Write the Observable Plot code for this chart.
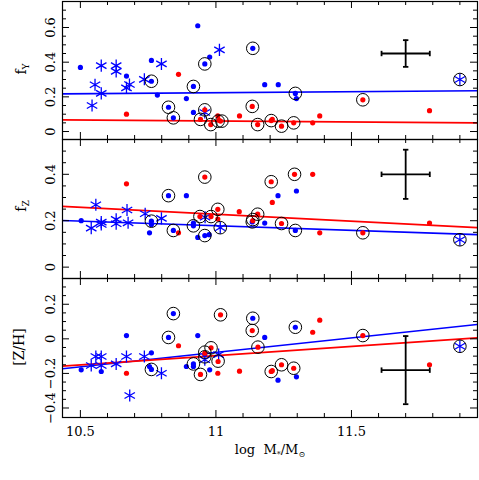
<!DOCTYPE html>
<html><head><meta charset="utf-8">
<script src="https://cdn.jsdelivr.net/npm/d3@7"></script>
<script src="https://cdn.jsdelivr.net/npm/@observablehq/plot@0.6"></script>
<style>
body{margin:0;background:#fff;}
#chart{position:relative;width:479px;height:480px;overflow:hidden;background:#fff;}
#chart svg{position:absolute;left:0;background:transparent;overflow:visible;}
</style></head><body><div id="chart"></div>
<script>
// ---------- data ----------
const xDomain = [10.434, 11.965];
const xMajorTicks = [10.5, 11, 11.5];
const xMinorTicks = [10.5, 10.6, 10.7, 10.8, 10.9, 11, 11.1, 11.2, 11.3, 11.4, 11.5, 11.6, 11.7, 11.8, 11.9];
const xTickLabels = ["10.5", "11", "11.5"];
const fitMass = [10.434, 11.965];

// f_Y panel
const fyBlueDots = [[10.50,0.37],[10.67,0.32],[10.762,0.41],[10.762,0.29],[10.784,0.21],[10.825,0.14],[10.843,0.079],[10.933,0.61],[10.891,0.19],[10.917,0.26],[10.917,0.11],[10.959,0.39],[10.977,0.43],[11.136,0.48],[11.18,0.27],[11.23,0.27],[11.293,0.22],[11.297,0.19]];
const fyRedDots = [[10.67,0.10],[10.862,0.33],[10.943,0.07],[10.959,0.125],[10.981,0.04],[11.007,0.09],[11.017,0.06],[11.011,0.065],[11.087,0.09],[11.134,0.145],[11.154,0.04],[11.204,0.063],[11.208,0.07],[11.242,0.031],[11.287,0.05],[11.357,0.05],[11.383,0.09],[11.542,0.183],[11.788,0.12]];
const fyStars = [[10.543,0.15],[10.554,0.27],[10.577,0.38],[10.577,0.22],[10.632,0.38],[10.632,0.347],[10.67,0.252],[10.681,0.271],[10.736,0.301],[10.799,0.39],[11.013,0.471],[10.959,0.11],[11.9,0.30]];
const fyRings = [[10.762,0.29],[10.825,0.14],[10.843,0.079],[10.917,0.26],[10.959,0.39],[11.136,0.48],[11.293,0.22],[10.943,0.07],[10.959,0.125],[10.981,0.04],[11.008,0.06],[11.022,0.06],[11.134,0.145],[11.154,0.04],[11.204,0.063],[11.242,0.031],[11.287,0.05],[11.542,0.183],[11.9,0.30]];
const fyBlueFit = [0.217, 0.235];
const fyRedFit = [0.067, 0.050];
const fyErr = {x: 11.7, dx: 0.089, y: 0.45, dy: 0.077};
const fyTickLabels = [0, 0.2, 0.4, 0.6];
const fyMinorTicks = [0,0.05,0.1,0.15,0.2,0.25,0.3,0.35,0.4,0.45,0.5,0.55,0.6,0.65,0.7];

// f_Z panel
const fzBlueDots = [[10.503,0.20],[10.762,0.198],[10.762,0.184],[10.755,0.148],[10.825,0.308],[10.843,0.158],[10.891,0.308],[10.917,0.178],[10.917,0.19],[10.933,0.128],[10.959,0.136],[10.975,0.14],[11.134,0.195],[11.18,0.19],[11.229,0.308],[11.297,0.328],[11.293,0.158]];
const fzRedDots = [[10.67,0.359],[10.862,0.148],[10.941,0.218],[10.959,0.388],[10.982,0.218],[11.007,0.249],[11.007,0.207],[11.086,0.239],[11.136,0.2],[11.154,0.228],[11.204,0.368],[11.208,0.279],[11.242,0.188],[11.29,0.40],[11.357,0.40],[11.383,0.148],[11.542,0.148],[11.788,0.19]];
const fzStars = [[10.54,0.168],[10.557,0.269],[10.577,0.184],[10.577,0.194],[10.632,0.206],[10.632,0.187],[10.672,0.246],[10.676,0.191],[10.739,0.23],[10.799,0.21],[10.96,0.215],[11.016,0.17],[11.9,0.118]];
const fzRings = [[10.762,0.198],[10.825,0.308],[10.843,0.158],[10.917,0.178],[10.941,0.218],[10.959,0.388],[10.959,0.136],[10.982,0.218],[11.007,0.249],[11.016,0.17],[11.134,0.195],[11.136,0.205],[11.154,0.228],[11.204,0.368],[11.242,0.188],[11.29,0.40],[11.293,0.158],[11.542,0.148],[11.9,0.118]];
const fzBlueFit = [0.201, 0.140];
const fzRedFit = [0.262, 0.170];
const fzErr = {x: 11.7, dx: 0.089, y: 0.40, dy: 0.106};
const fzTickLabels = [0, 0.2, 0.4];
const fzMinorTicks = [0,0.05,0.1,0.15,0.2,0.25,0.3,0.35,0.4,0.45,0.5];

// [Z/H] panel
const zhBlueDots = [[10.503,-0.179],[10.577,-0.189],[10.67,0.019],[10.762,-0.081],[10.755,-0.16],[10.762,-0.177],[10.825,0.008],[10.843,0.146],[10.891,-0.16],[10.917,-0.145],[10.917,-0.16],[10.933,0.019],[10.959,-0.09],[10.977,-0.179],[11.136,0.119],[11.18,0.008],[11.229,-0.239],[11.293,0.067],[11.297,-0.22]];
const zhRedDots = [[10.67,-0.199],[10.862,-0.04],[10.943,-0.206],[10.959,-0.083],[10.982,-0.052],[11.008,-0.131],[11.007,-0.199],[11.017,0.139],[11.087,-0.187],[11.134,0.048],[11.155,-0.048],[11.204,-0.189],[11.208,-0.184],[11.242,-0.15],[11.287,-0.17],[11.357,0.038],[11.383,0.108],[11.542,0.019],[11.788,-0.15]];
const zhStars = [[10.54,-0.154],[10.557,-0.102],[10.577,-0.102],[10.577,-0.154],[10.632,-0.145],[10.67,-0.102],[10.682,-0.328],[10.736,-0.102],[10.799,-0.199],[10.959,-0.121],[11.01,-0.091],[11.9,-0.043]];
const zhRings = [[10.762,-0.177],[10.825,0.008],[10.843,0.146],[10.917,-0.145],[10.943,-0.206],[10.959,-0.077],[10.959,-0.104],[10.982,-0.052],[11.008,-0.129],[11.017,0.139],[11.136,0.119],[11.134,0.048],[11.155,-0.048],[11.204,-0.189],[11.242,-0.15],[11.287,-0.17],[11.293,0.067],[11.542,0.019],[11.9,-0.043]];
const zhBlueFit = [-0.173, 0.083];
const zhRedFit = [-0.158, 0.006];
const zhErr = {x: 11.7, dx: 0.089, y: -0.181, dy: 0.197};
const zhTickLabels = [-0.4, -0.2, 0, 0.2];
const zhMinorTicks = [-0.4,-0.35,-0.3,-0.25,-0.2,-0.15,-0.1,-0.05,0,0.05,0.1,0.15,0.2,0.25,0.3];

// ---------- drawing ----------
const W = 479, ML = 62, MR = 2;
const BLUE = "#0000ff", RED = "#ff0000";
const FONT = "DejaVu Serif";
const capV = {draw(ctx, size) { const r = Math.sqrt(size / Math.PI); ctx.moveTo(0, -r); ctx.lineTo(0, r); }};
const capH = {draw(ctx, size) { const r = Math.sqrt(size / Math.PI); ctx.moveTo(-r, 0); ctx.lineTo(r, 0); }};
const fmt = v => (v < 0 ? "\u2212" : "") + String(Math.abs(v));

function panel(cfg) {
  const {top, height, mt, mb, domain, blue, red, stars, rings, blueFit, redFit, err, labels, minor, xLabels} = cfg;
  const innerH = height - mt - mb, innerW = W - ML - MR;
  const xy = {x: d => d[0], y: d => d[1]};
  const majorY = labels, minorY = minor.filter(v => !labels.some(l => Math.abs(l - v) < 1e-9));
  const minorX = xMinorTicks.filter(v => !xMajorTicks.includes(v));
  const tk = {stroke: "black", strokeWidth: 1};
  const marks = [
    // fit lines
    Plot.line(fitMass.map((m, i) => [m, blueFit[i]]), {...xy, stroke: BLUE, strokeWidth: 1.6, clip: true}),
    Plot.line(fitMass.map((m, i) => [m, redFit[i]]), {...xy, stroke: RED, strokeWidth: 1.6, clip: true}),
    // symbols
    Plot.dot(stars, {...xy, symbol: "asterisk", r: 5.7, stroke: BLUE, strokeWidth: 1.3}),
    Plot.dot(blue, {...xy, r: 2.6, fill: BLUE, stroke: "none"}),
    Plot.dot(red, {...xy, r: 2.6, fill: RED, stroke: "none"}),
    Plot.dot(rings, {...xy, r: 6.3, fill: "none", stroke: "black", strokeWidth: 1}),
    // error cross
    Plot.ruleY([err], {y: d => d.y, x1: d => d.x - d.dx, x2: d => d.x + d.dx, stroke: "black", strokeWidth: 1.8}),
    Plot.ruleX([err], {x: d => d.x, y1: d => d.y - d.dy, y2: d => d.y + d.dy, stroke: "black", strokeWidth: 1.8}),
    Plot.dot([[err.x - err.dx, err.y], [err.x + err.dx, err.y]], {...xy, symbol: capV, r: 2.7, stroke: "black", strokeWidth: 1.8, fill: "none"}),
    Plot.dot([[err.x, err.y - err.dy], [err.x, err.y + err.dy]], {...xy, symbol: capH, r: 2.7, stroke: "black", strokeWidth: 1.8, fill: "none"}),
    // ticks (inside, all four sides)
    Plot.tickX(xMajorTicks, {x: d => d, insetTop: innerH - 7, ...tk}),
    Plot.tickX(xMajorTicks, {x: d => d, insetBottom: innerH - 7, ...tk}),
    Plot.tickX(minorX, {x: d => d, insetTop: innerH - 4, ...tk}),
    Plot.tickX(minorX, {x: d => d, insetBottom: innerH - 4, ...tk}),
    Plot.tickY(majorY, {y: d => d, insetRight: innerW - 7, ...tk}),
    Plot.tickY(majorY, {y: d => d, insetLeft: innerW - 7, ...tk}),
    Plot.tickY(minorY, {y: d => d, insetRight: innerW - 4, ...tk}),
    Plot.tickY(minorY, {y: d => d, insetLeft: innerW - 4, ...tk}),
    // y tick labels (rotated)
    Plot.text(labels, {y: d => d, text: d => fmt(d), frameAnchor: "left", dx: -12, rotate: -90, textAnchor: "middle", lineAnchor: "middle", fontSize: 13, fill: "black"}),
    Plot.frame({stroke: "black", strokeWidth: 1.2})
  ];
  if (xLabels) {
    marks.push(Plot.text(xMajorTicks, {x: d => d, text: (d, i) => xTickLabels[i], frameAnchor: "bottom", dy: 14, lineAnchor: "middle", fontSize: 13, fill: "black"}));
  }
  const svg = Plot.plot({
    width: W, height, marginLeft: ML, marginRight: MR, marginTop: mt, marginBottom: mb,
    x: {domain: xDomain, axis: null},
    y: {domain, axis: null},
    style: {fontFamily: FONT, fontSize: "13px", background: "transparent", color: "black"},
    marks
  });
  svg.style.top = top + "px";
  document.getElementById("chart").appendChild(svg);
  return svg;
}

const s1 = panel({top: 0, height: 140, mt: 1, mb: 1, domain: [-0.046, 0.75], blue: fyBlueDots, red: fyRedDots, stars: fyStars, rings: fyRings, blueFit: fyBlueFit, redFit: fyRedFit, err: fyErr, labels: fyTickLabels, minor: fyMinorTicks});
const s2 = panel({top: 138, height: 141, mt: 1, mb: 1, domain: [-0.049, 0.55], blue: fzBlueDots, red: fzRedDots, stars: fzStars, rings: fzRings, blueFit: fzBlueFit, redFit: fzRedFit, err: fzErr, labels: fzTickLabels, minor: fzMinorTicks});
const s3 = panel({top: 277, height: 203, mt: 1, mb: 63, domain: [-0.455, 0.349], blue: zhBlueDots, red: zhRedDots, stars: zhStars, rings: zhRings, blueFit: zhBlueFit, redFit: zhRedFit, err: zhErr, labels: zhTickLabels, minor: zhMinorTicks, xLabels: true});

// axis titles
function yTitle(svg, x, y, main, sub) {
  const t = d3.select(svg).append("text")
    .attr("transform", `translate(${x},${y}) rotate(-90)`)
    .attr("text-anchor", "middle").attr("font-family", FONT).attr("font-size", 14).attr("fill", "black");
  t.append("tspan").text(main);
  if (sub) t.append("tspan").attr("font-size", 9).attr("dy", 3).text(sub);
}
yTitle(s1, 26, 69, "f", "Y");
yTitle(s2, 26, 206 - 138, "f", "Z");
yTitle(s3, 24, 347 - 277, "[Z/H]", null);

const xt = d3.select(s3).append("text")
  .attr("x", 270).attr("y", 454 - 277).attr("text-anchor", "middle")
  .attr("font-family", FONT).attr("font-size", 13).attr("fill", "black");
xt.append("tspan").text("log  M");
xt.append("tspan").attr("font-size", 8).attr("dy", 3).text("*");
xt.append("tspan").attr("dy", -3).text("/M");
xt.append("tspan").attr("font-size", 8).attr("dy", 3).text("\u2299");
</script></body></html>
